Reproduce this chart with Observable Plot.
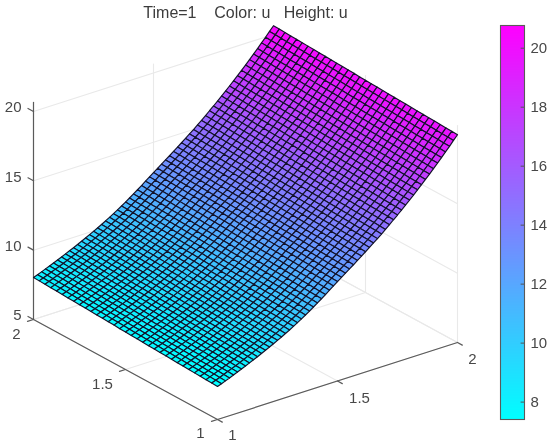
<!DOCTYPE html>
<html><head><meta charset="utf-8">
<script src="https://cdn.jsdelivr.net/npm/d3@7"></script>
<script src="https://cdn.jsdelivr.net/npm/@observablehq/plot@0.6"></script>
<style>
html,body{margin:0;padding:0;background:#fff}
#wrap{position:relative;width:550px;height:446px;overflow:hidden}
#wrap svg{position:absolute;top:0;font-family:"Liberation Sans",Arial,sans-serif;filter:blur(.45px)}
</style></head><body><div id="wrap"></div>
<script>
const xTicks=[1,1.5,2], yTicks=[1,1.5,2], zTicks=[5,10,15,20], barTicks=[8,10,12,14,16,18,20];
const colorDomain=[7.41,20.77];
const zTop=20.65;
const uAlongX=[7.38,7.49,7.60,7.72,7.84,7.96,8.08,8.21,8.34,8.47,
 8.60,8.74,8.88,9.02,9.17,9.32,9.47,9.63,9.79,9.96,
 10.13,10.31,10.50,10.69,10.89,11.09,11.30,11.51,11.73,11.95,
 12.17,12.38,12.59,12.80,13.01,13.23,13.45,13.67,13.89,14.12,
 14.34,14.58,14.82,15.07,15.33,15.58,15.84,16.11,16.38,16.65,
 16.93,17.21,17.50,17.79,18.09,18.40,18.70,19.02,19.33,19.66,19.98];
const uOffsetY=[0,.02,.04,.06,.08,.1,.12,.14,.16,.18,.2,.22,.24,.26,.28,.3,.32,.34,.37,.39,.41,.43,.45,.47,.49,.51,.53,.55,.57,.59,.61,.63,.65];

const P=(x,y,z)=>[217+(x-1)*240-(y-1)*184, 419-(x-1)*77-(y-1)*100-(z-5)*13.87];
const nx=uAlongX.length-1, ny=uOffsetY.length-1;
const gx=i=>1+i/nx, gy=j=>1+j/ny, U=(i,j)=>uAlongX[i]+uOffsetY[j];
const cells=[];
for(let j=ny-1;j>=0;j--)for(let i=nx-1;i>=0;i--){
  const c=[[i,j],[i+1,j],[i+1,j+1],[i,j+1],[i,j]].map(([a,b])=>P(gx(a),gy(b),U(a,b)));
  cells.push({type:"Polygon",coordinates:[c],u:U(i,j)});
}
const segs=(list)=>list.flatMap((s,k)=>[{k,p:s[0]},{k,p:s[1]}]);
const grid=segs([
  ...xTicks.map(x=>[P(x,1,5),P(x,2,5)]),
  ...yTicks.map(y=>[P(1,y,5),P(2,y,5)]),
  ...xTicks.map(x=>[P(x,2,5),P(x,2,zTop)]),
  ...yTicks.map(y=>[P(2,y,5),P(2,y,zTop)]),
  ...zTicks.map(z=>[P(1,2,z),P(2,2,z)]),
  ...zTicks.map(z=>[P(2,2,z),P(2,1,z)])
]);
const axes=segs([
  [P(1,1,5),P(2,1,5)],[P(1,1,5),P(1,2,5)],[P(1,2,5),P(1,2,zTop)],
  ...xTicks.map(x=>[P(x,1,5),P(x,.974,5)]),
  ...yTicks.map(y=>[P(1,y,5),P(.975,y,5)]),
  ...zTicks.map(z=>[P(1,2,z),P(1,2.03,z)])
]);
const xOff=[[15,16],[22,17],[15,17]], yOff=[[-17,14],[-23,15],[-17,15]];
const labels=[
  ...xTicks.map((v,k)=>({v,p:P(v,1,5),o:xOff[k]})),
  ...yTicks.map((v,k)=>({v,p:P(1,v,5),o:yOff[k]})),
];
const zLabels=zTicks.map(v=>({v,p:P(1,2,v),o:[-12,-4]}));
const color={type:"linear",domain:colorDomain,range:["#00ffff","#ff00ff"],interpolate:"rgb"};
const TXT="#484848";
const tx=d=>d.p[0]+d.o[0], ty=d=>d.p[1]+d.o[1];
const main=Plot.plot({width:490,height:446,margin:0,projection:"identity",color,
 marks:[
  Plot.line(grid,{x:d=>d.p[0],y:d=>d.p[1],z:"k",stroke:"#e9e9e9",strokeWidth:1.1}),
  Plot.line(axes,{x:d=>d.p[0],y:d=>d.p[1],z:"k",stroke:"#5a5a5a",strokeWidth:1.2}),
  Plot.geo(cells,{fill:"u",stroke:"#12122a",strokeWidth:1.15}),
  Plot.text(labels,{x:tx,y:ty,text:d=>String(d.v),fontSize:15,fill:TXT,textAnchor:"middle"}),
  Plot.text(zLabels,{x:tx,y:ty,text:d=>String(d.v),fontSize:15,fill:TXT,textAnchor:"end"}),
  Plot.text(["Time=1    Color: u   Height: u"],{x:()=>245,y:()=>12,text:d=>d,fontSize:16,fill:"#3c3c3c",textAnchor:"middle"})
 ]});
main.style.left="0";
const bar=Plot.plot({width:60,height:446,marginLeft:10,marginRight:26,marginTop:25,marginBottom:27,color,
 x:{domain:[0,1],axis:null},y:{domain:colorDomain,ticks:barTicks},
 marks:[
  Plot.raster({fill:(x,y)=>y,x1:0,x2:1,y1:colorDomain[0],y2:colorDomain[1],pixelSize:1,interpolate:"none"}),
  Plot.ruleY(barTicks,{x1:.86,x2:1,stroke:"#555",strokeWidth:1}),
  Plot.axisY(barTicks,{anchor:"right",tickSize:0,tickPadding:6,fontSize:15,fill:TXT,label:null}),
  Plot.frame({stroke:"#5a5a5a",strokeWidth:1.1})
 ]});
bar.style.left="490px";
document.getElementById("wrap").append(main,bar);
</script></body></html>
